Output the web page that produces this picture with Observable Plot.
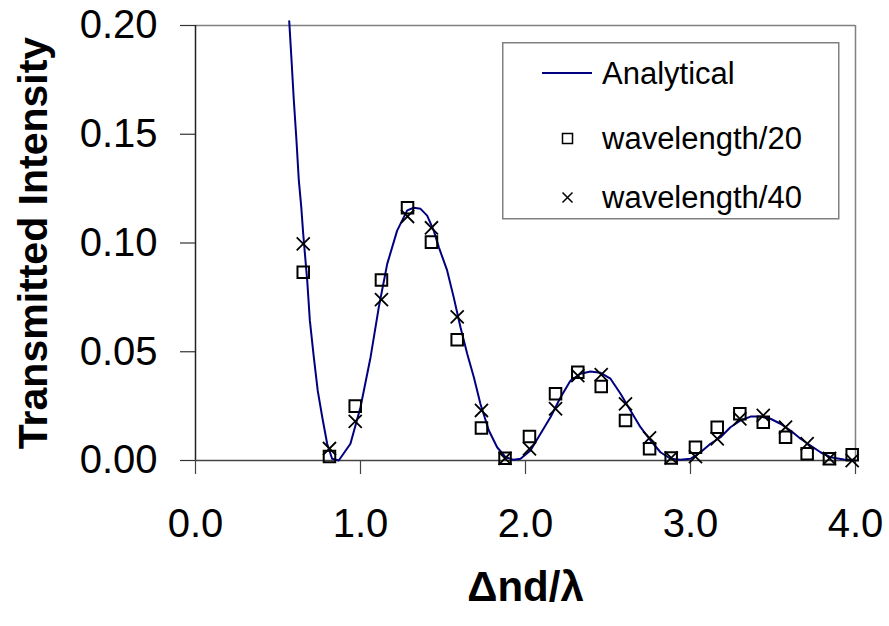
<!DOCTYPE html>
<html>
<head>
<meta charset="utf-8">
<script src="https://cdn.jsdelivr.net/npm/d3@7"></script>
<script src="https://cdn.jsdelivr.net/npm/@observablehq/plot@0.6"></script>
<style>
  body { margin: 0; background: #fff; }
  #wrap { position: relative; width: 889px; height: 626px; font-family: "Liberation Sans", Arial, sans-serif; }
  #legend { position: absolute; left: 502px; top: 42px; }
</style>
</head>
<body>
<div id="wrap"></div>
<script>
// Analytical curve
const curveX = [0.568,0.582,0.596,0.612,0.626,0.641,0.653,0.677,0.693,0.717,0.741,0.768,0.798,0.828,0.868,0.939,1.0,1.061,1.111,1.162,1.222,1.283,1.323,1.364,1.404,1.444,1.475,1.525,1.565,1.606,1.647,1.687,1.727,1.778,1.828,1.879,1.929,1.97,2.03,2.091,2.152,2.212,2.273,2.333,2.394,2.455,2.515,2.576,2.636,2.697,2.758,2.818,2.879,2.939,3.0,3.061,3.121,3.182,3.242,3.303,3.364,3.424,3.485,3.545,3.606,3.667,3.727,3.788,3.848,3.929,3.99];
const curveY = [0.202,0.184,0.1655,0.147,0.129,0.1165,0.104,0.0828,0.0644,0.0475,0.032,0.020,0.0077,0.0008,0.0,0.0077,0.0245,0.0475,0.0705,0.0904,0.1057,0.115,0.1162,0.1157,0.1126,0.1057,0.098,0.0874,0.075,0.0613,0.049,0.0383,0.026,0.0138,0.0061,0.0015,0.0003,0.0008,0.0046,0.0123,0.020,0.029,0.0368,0.0399,0.0409,0.0403,0.0376,0.0307,0.023,0.0153,0.0092,0.0038,0.0008,0.0003,0.0008,0.0038,0.0077,0.0107,0.0153,0.0184,0.0202,0.0202,0.0192,0.0169,0.0138,0.010,0.0069,0.0038,0.0015,0.0005,0.0003];

// Simulation points
const pointX = [0.653,0.812,0.968,1.127,1.285,1.430,1.586,1.733,1.876,2.024,2.182,2.317,2.459,2.606,2.752,2.883,3.030,3.162,3.299,3.441,3.576,3.707,3.842,3.980];
const wl20 = [0.0866,0.0018,0.025,0.083,0.1162,0.1004,0.0555,0.0149,0.001,0.011,0.0307,0.0406,0.034,0.0184,0.0054,0.0012,0.0061,0.0153,0.0215,0.0176,0.0107,0.0031,0.0008,0.0026];
const wl40 = [0.0996,0.0055,0.018,0.074,0.1122,0.107,0.066,0.023,0.001,0.0054,0.0238,0.039,0.0395,0.026,0.0104,0.0012,0.0018,0.010,0.0192,0.0207,0.0153,0.0077,0.001,0.0];

const xTicks = [0, 1, 2, 3, 4];
const yTicks = [0, 0.05, 0.10, 0.15, 0.20];
const seriesNames = ["Analytical", "wavelength/20", "wavelength/40"];

const curve = curveX.map((x, i) => ({x, y: curveY[i]}));
const s20 = pointX.map((x, i) => ({x, y: wl20[i]}));
const s40 = pointX.map((x, i) => ({x, y: wl40[i]}));

const chart = Plot.plot({
  width: 889,
  height: 626,
  marginLeft: 195,
  marginRight: 34,
  marginTop: 25,
  marginBottom: 166,
  style: {fontFamily: '"Liberation Sans", Arial, sans-serif', fontSize: "40px", color: "#000", background: "#fff", overflow: "visible"},
  x: {domain: [0, 4]},
  y: {domain: [0, 0.2]},
  marks: [
    Plot.ruleY([yTicks[yTicks.length - 1]], {stroke: "#808080", strokeWidth: 1.5}),
    Plot.ruleX([xTicks[xTicks.length - 1]], {stroke: "#808080", strokeWidth: 1.5}),
    Plot.axisY({ticks: yTicks, tickFormat: d3.format(".2f"), tickSize: 15, tickPadding: 23, label: null, stroke: "#333", strokeWidth: 1.2, strokeOpacity: 1}),
    Plot.axisX({ticks: xTicks, tickFormat: d3.format(".1f"), tickSize: 14, tickPadding: 34, label: null, stroke: "#444", strokeWidth: 1.2, strokeOpacity: 1}),
    Plot.ruleX([0], {stroke: "#222", strokeWidth: 1.5}),
    Plot.ruleY([0], {stroke: "#444", strokeWidth: 1.5}),
    Plot.line(curve, {x: "x", y: "y", stroke: "#000080", strokeWidth: 2}),
    Plot.dot(s20, {x: "x", y: "y", symbol: "square", r: 6.5, fill: "none", stroke: "#000", strokeWidth: 2}),
    Plot.dot(s40, {x: "x", y: "y", symbol: "times", r: 6, stroke: "#000", strokeWidth: 1.8}),
    Plot.text(["Transmitted Intensity"], {frameAnchor: "left", dx: -162, rotate: -90, fontWeight: "bold", fontSize: 41, textAnchor: "middle"}),
    Plot.text(["\u0394nd/\u03bb"], {frameAnchor: "bottom", dy: 140, fontWeight: "bold", fontSize: 42, textAnchor: "middle"})
  ]
});

const wrap = document.getElementById("wrap");
wrap.appendChild(chart);

// Legend
const ns = "http://www.w3.org/2000/svg";
const leg = document.createElementNS(ns, "svg");
leg.setAttribute("id", "legend");
leg.setAttribute("width", 338);
leg.setAttribute("height", 178);
leg.innerHTML = `
  <rect x="0.75" y="0.75" width="336" height="176" fill="#fff" stroke="#808080" stroke-width="1.5"/>
  <line x1="40" x2="90" y1="31" y2="31" stroke="#000080" stroke-width="2"/>
  <rect x="60.5" y="91.5" width="10" height="10" fill="none" stroke="#000" stroke-width="1.5"/>
  <path d="M60.5,150.5L70.5,160.5M70.5,150.5L60.5,160.5" stroke="#000" stroke-width="1.5"/>
`;
const rowY = [31, 96, 155];
seriesNames.forEach((name, i) => {
  const t = document.createElementNS(ns, "text");
  t.setAttribute("x", 100);
  t.setAttribute("y", rowY[i]);
  t.setAttribute("dy", "0.35em");
  t.setAttribute("font-size", "31");
  t.setAttribute("font-family", '"Liberation Sans", Arial, sans-serif');
  t.textContent = name;
  leg.appendChild(t);
});
wrap.appendChild(leg);
</script>
</body>
</html>
